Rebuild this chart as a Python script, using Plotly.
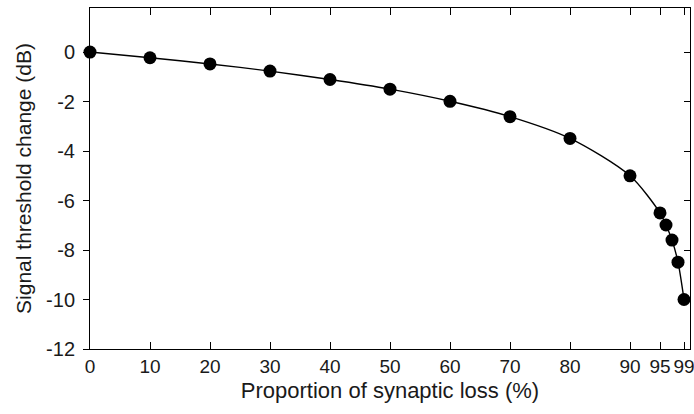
import plotly.graph_objects as go

# Synaptic loss (%) and the resulting signal threshold change (dB)
loss_pct = [0, 10, 20, 30, 40, 50, 60, 70, 80, 90, 95, 96, 97, 98, 99]
threshold_db = [0, -0.23, -0.48, -0.77, -1.11, -1.5, -1.99, -2.61, -3.49,
                -5.0, -6.5, -6.99, -7.6, -8.49, -10.0]

x_ticks = [0, 10, 20, 30, 40, 50, 60, 70, 80, 90, 95, 99]
y_ticks = [0, -2, -4, -6, -8, -10, -12]

x_range = [0, 100]
y_range = [-12, 1.78]
font = "Liberation Sans, Arial, sans-serif"

fig = go.Figure()
fig.add_trace(go.Scatter(
    x=loss_pct, y=threshold_db, mode="lines+markers",
    line=dict(color="black", width=1.4, shape="spline", smoothing=0.8),
    marker=dict(color="black", size=13),
    showlegend=False, cliponaxis=False,
))

fig.update_layout(
    width=694, height=414,
    margin=dict(l=90, r=4, t=8, b=65),
    paper_bgcolor="white", plot_bgcolor="white",
    font=dict(family=font, color="#1a1a1a", size=20),
    xaxis=dict(
        range=x_range, tickvals=x_ticks, ticktext=[str(v) for v in x_ticks],
        ticks="inside", ticklen=7, tickwidth=1, tickcolor="black",
        showline=True, linecolor="black", linewidth=1, mirror="ticks",
        showgrid=False, zeroline=False, ticklabeloverflow="allow",
        automargin=False, tickangle=0,
        title=dict(text="Proportion of synaptic loss (%)", font=dict(size=22), standoff=6),
        tickfont=dict(size=19),
    ),
    yaxis=dict(
        range=y_range, tickvals=y_ticks, ticktext=[str(v) for v in y_ticks],
        ticks="outside", ticklen=6, tickwidth=1, tickcolor="black",
        showline=True, linecolor="black", linewidth=1,
        showgrid=False, zeroline=False, automargin=False,
        ticklabelstandoff=4,
        title=dict(text="Signal threshold change (dB)", font=dict(size=21), standoff=8),
        tickfont=dict(size=20),
    ),
    yaxis2=dict(
        range=y_range, tickvals=y_ticks, overlaying="y", side="right",
        ticks="inside", ticklen=6, tickwidth=1, tickcolor="black",
        showticklabels=False, showline=True, linecolor="black", linewidth=1,
        showgrid=False, zeroline=False, automargin=False,
    ),
)
# Invisible trace so the right-hand axis is drawn
fig.add_trace(go.Scatter(x=[None], y=[None], yaxis="y2", showlegend=False))

fig.write_html("out.html")
